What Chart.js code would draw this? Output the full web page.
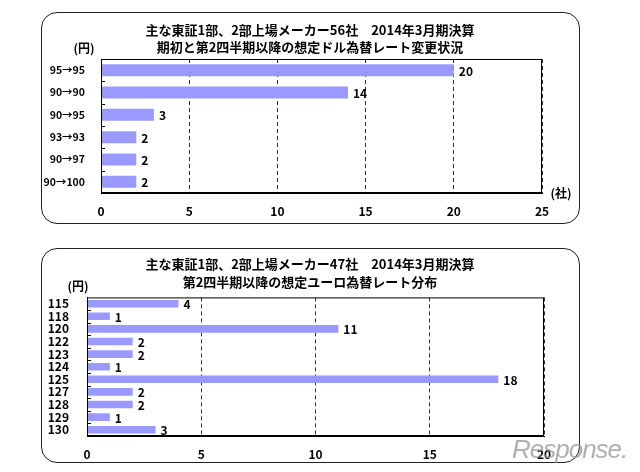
<!DOCTYPE html>
<html>
<head>
<meta charset="utf-8">
<script src="https://cdn.jsdelivr.net/npm/chart.js@4"></script>
<style>
  body { margin: 0; background: #fff; width: 640px; height: 472px; position: relative; overflow: hidden; }
  .box { position: absolute; border: 1.5px solid #222; border-radius: 16px; box-sizing: border-box; }
  canvas { position: absolute; }
  #logo { position: absolute; left: 512px; top: 434px; font: italic 26px "Liberation Sans", sans-serif;
          color: rgba(150,150,150,0.75); letter-spacing: -1px; }
</style>
</head>
<body>
<div class="box" style="left:41px; top:12px; width:539px; height:212px;"></div>
<div class="box" style="left:41px; top:248px; width:539px; height:215px;"></div>
<canvas id="usd" style="left:41px; top:12px;"></canvas>
<canvas id="eur" style="left:41px; top:248px;"></canvas>
<div id="logo">Response.</div>
<script>
// ドル: 期初→第2四半期以降
const usdTitle = ["主な東証1部、2部上場メーカー56社　2014年3月期決算", "期初と第2四半期以降の想定ドル為替レート変更状況"];
const usdCategories = ["95→95", "90→90", "90→95", "93→93", "90→97", "90→100"];
const usdCounts = [20, 14, 3, 2, 2, 2];
const usdTicks = [0, 5, 10, 15, 20, 25];

// ユーロ: 第2四半期以降
const eurTitle = ["主な東証1部、2部上場メーカー47社　2014年3月期決算", "第2四半期以降の想定ユーロ為替レート分布"];
const eurCategories = ["115", "118", "120", "122", "123", "124", "125", "127", "128", "129", "130"];
const eurCounts = [4, 1, 11, 2, 2, 1, 18, 2, 2, 1, 3];
const eurTicks = [0, 5, 10, 15, 20];

const FONT = "'Noto Sans CJK JP', 'Liberation Sans', sans-serif";
const BAR = "#9999ff";

// title, frame, inner ticks, value labels and unit labels
const extras = {
  id: "extras",
  afterDatasetsDraw(chart, args, opts) {
    const ctx = chart.ctx, a = chart.chartArea, y = chart.scales.y;
    ctx.save();
    ctx.strokeStyle = "#000";
    ctx.lineWidth = 1;
    ctx.strokeRect(a.left + 0.5, a.top + 0.5, a.right - a.left - 1, a.bottom - a.top - 1);

    // category boundary ticks pointing into the plot
    ctx.beginPath();
    for (let i = 0; i < chart.data.labels.length - 1; i++) {
      const py = Math.round((y.getPixelForValue(i) + y.getPixelForValue(i + 1)) / 2) + 0.5;
      ctx.moveTo(a.left, py);
      ctx.lineTo(a.left + 4, py);
    }
    ctx.stroke();

    ctx.fillStyle = "#000";
    ctx.textBaseline = "middle";
    ctx.textAlign = "center";
    ctx.font = "bold 13px " + FONT;
    opts.title.forEach((t, i) => ctx.fillText(t, opts.titleX, opts.titleY[i]));

    ctx.font = "bold 12px " + FONT;
    ctx.textAlign = "left";
    const meta = chart.getDatasetMeta(0);
    meta.data.forEach((bar, i) => {
      ctx.fillText(chart.data.datasets[0].data[i], bar.x + 5, bar.y + 1);
    });

    ctx.textAlign = "center";
    ctx.fillText("(円)", a.left + opts.yen[0], a.top + opts.yen[1]);
    if (opts.sha) ctx.fillText("(社)", a.right + opts.sha[0], a.bottom + opts.sha[1]);
    ctx.restore();
  }
};

function makeChart(id, w, h, title, cats, vals, ticks, cfg) {
  const el = document.getElementById(id);
  el.width = w; el.height = h;
  el.style.width = w + "px"; el.style.height = h + "px";
  return new Chart(el, {
    type: "bar",
    data: {
      labels: cats,
      datasets: [{
        data: vals,
        backgroundColor: BAR,
        borderWidth: 0,
        categoryPercentage: 1,
        barPercentage: cfg.bar
      }]
    },
    options: {
      indexAxis: "y",
      responsive: false,
      animation: false,
      layout: { padding: { left: 0, right: cfg.right, top: cfg.top, bottom: 0 } },
      plugins: {
        legend: { display: false },
        tooltip: { enabled: false },
        title: { display: false },
        extras: { title: title, titleX: cfg.titleX, titleY: cfg.titleY, yen: cfg.yen, sha: cfg.sha }
      },
      scales: {
        x: {
          min: 0,
          max: ticks[ticks.length - 1],
          afterBuildTicks: s => { s.ticks = ticks.map(v => ({ value: v })); },
          afterFit: s => { s.height = cfg.xh; },
          grid: { drawTicks: false, color: "#333", lineWidth: 1 },
          border: { display: true, color: "#000", dash: [4, 3] },
          ticks: { color: "#000", padding: 11, font: { family: FONT, size: 12, weight: "bold" } }
        },
        y: {
          afterFit: s => { s.width = cfg.yw; },
          grid: { display: false },
          border: { display: true, color: "#000" },
          ticks: { color: "#000", padding: cfg.yPad, autoSkip: false, font: { family: FONT, size: cfg.yFont, weight: "bold" } }
        }
      }
    },
    plugins: [extras]
  });
}

makeChart("usd", 539, 212, usdTitle, usdCategories, usdCounts, usdTicks, {
  bar: 0.54, right: 38, top: 47, xh: 31, yw: 60, yFont: 10.5, yPad: 8,
  titleX: 269, titleY: [18, 35], yen: [-17, -11], sha: [19, 0]
});
makeChart("eur", 539, 215, eurTitle, eurCategories, eurCounts, eurTicks, {
  bar: 0.6, right: 36, top: 49.4, xh: 27, yw: 46, yFont: 12, yPad: 10,
  titleX: 269, titleY: [16, 34], yen: [-9, -11], sha: null
});
</script>
</body>
</html>
